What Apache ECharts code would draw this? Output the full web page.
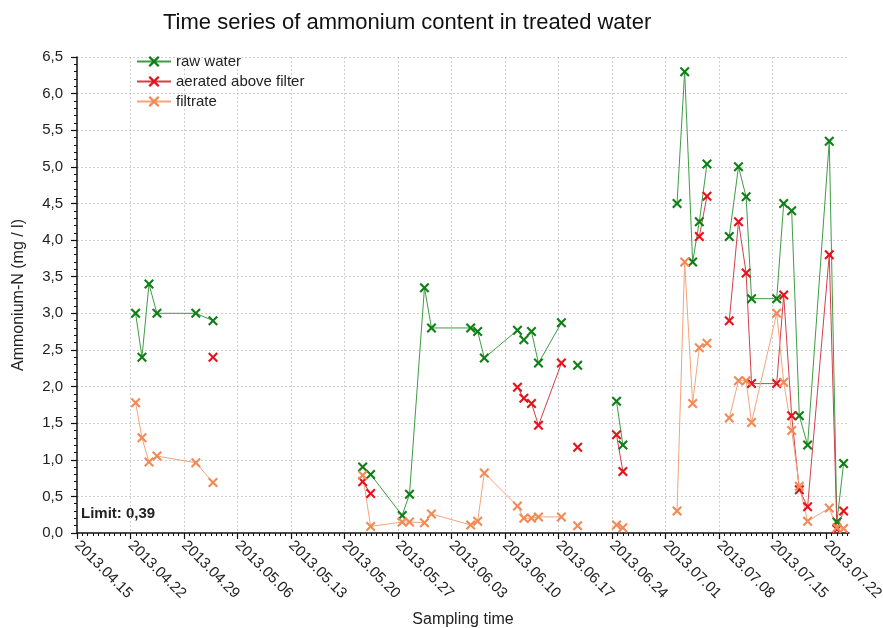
<!DOCTYPE html>
<html>
<head>
<meta charset="utf-8">
<script src="https://cdn.jsdelivr.net/npm/echarts@6/dist/echarts.min.js"></script>
<style>
html,body{margin:0;padding:0;background:#fff;}
#chart{width:883px;height:628px;}
</style>
</head>
<body>
<div id="chart"></div>
<script>
// ---- data ----
var samplingTimes = [
  '2013-04-22 16:00','2013-04-23 12:00','2013-04-24 10:00','2013-04-25 11:00','2013-04-30 13:00','2013-05-02 19:00',
  '2013-05-10 12:00',
  '2013-05-22 09:00','2013-05-23 10:00','2013-05-27 13:00','2013-05-28 12:00','2013-05-30 11:00','2013-05-31 09:00',
  '2013-06-05 12:00','2013-06-06 10:00','2013-06-07 07:00','2013-06-11 15:00','2013-06-12 11:00','2013-06-13 11:00',
  '2013-06-14 09:00','2013-06-17 09:00',
  '2013-06-18 12:00',
  '2013-06-19 12:00',
  '2013-06-21 12:00',
  '2013-06-24 14:00','2013-06-25 10:00',
  '2013-06-28 12:00',
  '2013-07-02 12:00','2013-07-03 12:00','2013-07-04 13:00','2013-07-05 10:00','2013-07-06 10:00',
  '2013-07-07 12:00',
  '2013-07-09 08:00','2013-07-10 13:00','2013-07-11 13:00','2013-07-12 06:00','2013-07-15 13:00','2013-07-16 11:00',
  '2013-07-17 12:00','2013-07-18 12:00','2013-07-19 14:00','2013-07-22 10:00','2013-07-23 10:00','2013-07-24 07:00'
];
var rawWater = [
  3.0, 2.4, 3.4, 3.0, 3.0, 2.9,
  null,
  0.9, 0.8, 0.24, 0.53, 3.35, 2.8,
  2.8, 2.75, 2.39, 2.77, 2.64, 2.75,
  2.32, 2.87,
  null,
  2.29,
  null,
  1.80, 1.20,
  null,
  4.5, 6.3, 3.7, 4.25, 5.04,
  null,
  4.05, 5.0, 4.59, 3.2, 3.2, 4.5,
  4.4, 1.6, 1.2, 5.35, 0.15, 0.95
];
var aeratedAboveFilter = [
  null, null, null, null, null, 2.4,
  null,
  0.70, 0.54, null, null, null, null,
  null, null, null, 1.99, 1.84, 1.77,
  1.47, 2.32,
  null,
  1.17,
  null,
  1.34, 0.84,
  null,
  null, null, null, 4.05, 4.6,
  null,
  2.9, 4.25, 3.55, 2.04, 2.04, 3.25,
  1.6, 0.59, 0.36, 3.8, 0.05, 0.30
];
var filtrate = [
  1.78, 1.3, 0.97, 1.05, 0.96, 0.69,
  null,
  0.79, 0.09, 0.15, 0.15, 0.14, 0.26,
  0.11, 0.16, 0.82, 0.37, 0.20, 0.20,
  0.22, 0.22,
  null,
  0.10,
  null,
  0.11, 0.07,
  null,
  0.30, 3.70, 1.77, 2.53, 2.59,
  null,
  1.57, 2.08, 2.08, 1.51, 3.0, 2.06,
  1.40, 0.64, 0.16, 0.34, 0.07, 0.06
];
var xTickLabels = ['2013.04.15','2013.04.22','2013.04.29','2013.05.06','2013.05.13','2013.05.20','2013.05.27',
  '2013.06.03','2013.06.10','2013.06.17','2013.06.24','2013.07.01','2013.07.08','2013.07.15','2013.07.22'];
var yTickLabels = ['0,0','0,5','1,0','1,5','2,0','2,5','3,0','3,5','4,0','4,5','5,0','5,5','6,0','6,5'];
var limitText = 'Limit: 0,39';

// ---- helpers ----
var T0 = Date.UTC(2013, 3, 15);
function toDay(s) {
  var p = s.split(/[-. :]/).map(Number);
  return (Date.UTC(p[0], p[1] - 1, p[2], p[3] || 0, p[4] || 0) - T0) / 86400000;
}
var xDays = samplingTimes.map(toDay);
var majorPos = xTickLabels.map(toDay);
var labelByPos = {};
majorPos.forEach(function (d, i) { labelByPos[Math.round(d)] = xTickLabels[i]; });
var minorPos = [];
for (var i = 0; i < majorPos.length; i++) {
  for (var k = 1; k < 10; k++) {
    var v = majorPos[i] + k * 0.7;
    if (v <= 101) minorPos.push(+v.toFixed(2));
  }
}
function pairs(vals) { return vals.map(function (v, i) { return [xDays[i], v]; }); }

var XPATH = 'path://M0,1.5L1.5,0L5,3.5L8.5,0L10,1.5L6.5,5L10,8.5L8.5,10L5,6.5L1.5,10L0,8.5L3.5,5Z';
var FONT = '"Liberation Sans", Arial, sans-serif';

function mkSeries(name, vals, mark, line) {
  return {
    name: name, type: 'line', data: pairs(vals), xAxisIndex: 0,
    symbol: XPATH, symbolSize: 10, showSymbol: true, showAllSymbol: true,
    connectNulls: false,
    itemStyle: { color: mark },
    lineStyle: { color: line, width: 1 },
    emphasis: { disabled: true },
    animation: false
  };
}

var chart = echarts.init(document.getElementById('chart'), null, { renderer: 'canvas' });
chart.setOption({
  backgroundColor: '#ffffff',
  animation: false,
  title: {
    text: 'Time series of ammonium content in treated water',
    left: 158, top: 7,
    textStyle: { fontFamily: FONT, fontSize: 22, fontWeight: 'normal', color: '#111' }
  },
  legend: {
    orient: 'vertical', left: 136, top: 54, padding: 0,
    itemWidth: 34, itemHeight: 14, itemGap: 5,
    textStyle: { fontFamily: FONT, fontSize: 15, color: '#222' },
    data: ['raw water', 'aerated above filter', 'filtrate']
  },
  grid: { left: 77, right: 34, top: 57, bottom: 95, containLabel: false, outerBoundsMode: 'none' },
  xAxis: [{
    type: 'value', min: 0, max: 101,
    name: 'Sampling time', nameLocation: 'middle', nameGap: 79,
    nameTextStyle: { fontFamily: FONT, fontSize: 16, color: '#222' },
    axisLine: { show: true, onZero: false, lineStyle: { color: '#111', width: 1.5 } },
    axisTick: { show: true, length: 6, customValues: majorPos, lineStyle: { color: '#111', width: 1.2 } },
    axisLabel: {
      customValues: majorPos, rotate: -45, margin: 10,
      fontFamily: FONT, fontSize: 15, color: '#222',
      formatter: function (v) { return labelByPos[Math.round(v)] || ''; }
    },
    splitLine: { show: true, showMinLine: false, showMaxLine: false, lineStyle: { color: '#cfcfcf', type: [2, 2], width: 1 } }
  }, {
    type: 'value', min: 0, max: 101, position: 'bottom',
    axisLine: { show: false },
    axisTick: { show: true, length: 3, customValues: minorPos, lineStyle: { color: '#111', width: 1 } },
    axisLabel: { show: false },
    splitLine: { show: false }
  }],
  yAxis: {
    type: 'value', min: 0, max: 6.5, interval: 0.5,
    name: 'Ammonium-N (mg / l)', nameLocation: 'middle', nameGap: 50,
    nameTextStyle: { fontFamily: FONT, fontSize: 16, color: '#222' },
    axisLine: { show: true, onZero: false, lineStyle: { color: '#111', width: 1.5 } },
    axisTick: { show: true, length: 6, lineStyle: { color: '#111', width: 1.2 } },
    minorTick: { show: true, splitNumber: 5, length: 3, lineStyle: { color: '#111', width: 1 } },
    axisLabel: {
      margin: 14, fontFamily: FONT, fontSize: 15, color: '#222',
      formatter: function (v) { return yTickLabels[Math.round(v * 2)]; }
    },
    splitLine: { show: true, showMinLine: false, lineStyle: { color: '#cfcfcf', type: [2, 2], width: 1 } },
    minorSplitLine: { show: false }
  },
  graphic: [{
    type: 'text', left: 81, top: 506,
    style: { text: limitText, fontFamily: FONT, fontSize: 15, fontWeight: 'bold', fill: '#222' }
  }],
  series: [
    mkSeries('raw water', rawWater, '#0f7f17', '#3f9c45'),
    mkSeries('aerated above filter', aeratedAboveFilter, '#e3141c', '#d2404a'),
    mkSeries('filtrate', filtrate, '#f28a55', '#f5a47c')
  ]
});
</script>
</body>
</html>
